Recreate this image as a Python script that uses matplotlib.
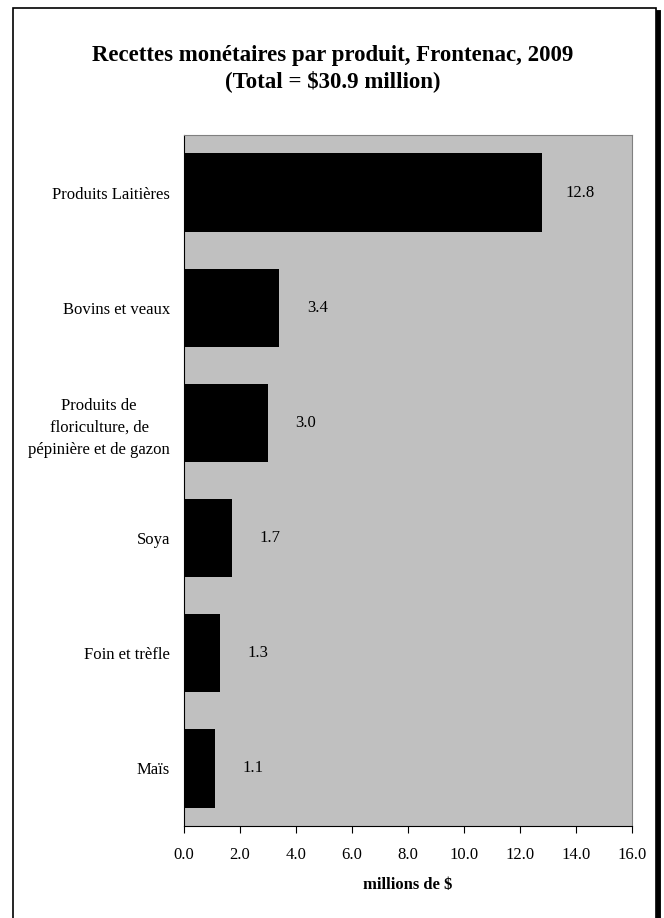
import matplotlib.pyplot as plt
from matplotlib.patches import Rectangle
from matplotlib.lines import Line2D

# data
produits = ['Produits Laitières', 'Bovins et veaux',
            'Produits de\nfloriculture, de\npépinière et de gazon',
            'Soya', 'Foin et trèfle', 'Maïs']
recettes = [12.8, 3.4, 3.0, 1.7, 1.3, 1.1]
xticks = [0, 2, 4, 6, 8, 10, 12, 14, 16]

plt.rcParams['font.family'] = ['Liberation Serif', 'DejaVu Serif']

fig = plt.figure(figsize=(6.64, 9.18), dpi=100)
ax = fig.add_axes([0.2771, 0.1002, 0.6747, 0.7527])

pos = list(range(len(produits)))
ax.barh(pos, recettes, height=0.68, color='black')
ax.set_ylim(len(produits) - 0.5, -0.5)
ax.set_xlim(0, 16)
ax.set_facecolor('#c0c0c0')

for p, v in zip(pos, recettes):
    ax.annotate(f'{v:.1f}', (v, p), xytext=(38, 0), textcoords='offset pixels',
                ha='center', va='center', fontsize=12)

ax.set_xticks(xticks)
ax.set_xticklabels([f'{t:.1f}' for t in xticks], fontsize=12)
ax.set_yticks(pos)
ax.set_yticklabels(produits, fontsize=12, multialignment='center', linespacing=1.5)
ax.tick_params(axis='y', length=0, pad=10)
ax.tick_params(axis='x', length=5, direction='out', pad=10)

for s in ['top', 'right']:
    ax.spines[s].set_color('#808080')
for s in ['left', 'bottom']:
    ax.spines[s].set_color('black')

ax.set_xlabel('millions de $', fontsize=12, fontweight='bold', labelpad=10)

fig.text(0.501, 0.9255, 'Recettes monétaires par produit, Frontenac, 2009\n(Total = $30.9 million)',
         ha='center', va='center', fontsize=16.5, fontweight='bold', linespacing=1.2)

# cadre
fig.patches.append(Rectangle((13 / 664, -0.01), (656 - 13) / 664, 1 - 8 / 918 + 0.01,
                             transform=fig.transFigure, fill=False, lw=1.2,
                             edgecolor='black'))
fig.lines.append(Line2D([658 / 664, 658 / 664], [0, 1 - 12 / 918],
                        transform=fig.transFigure, color='black', lw=3.5))

fig.savefig('out.png', dpi=100)
